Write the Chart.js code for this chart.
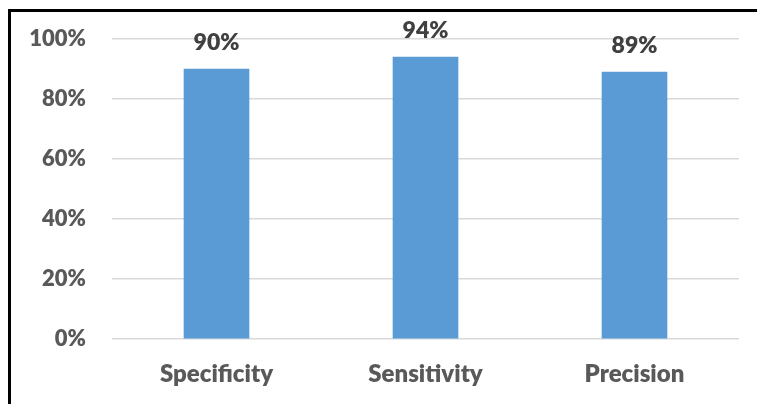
<!DOCTYPE html>
<html>
<head>
<meta charset="utf-8">
<script src="https://cdn.jsdelivr.net/npm/chart.js@4/dist/chart.umd.min.js"></script>
<style>
  html, body { margin: 0; padding: 0; background: #ffffff; }
  #wrap { position: relative; width: 757px; height: 404px; }
</style>
</head>
<body>
<div id="wrap"><canvas id="chart" width="757" height="404"></canvas></div>
<script>
// Diagnostic metrics (share of cases, percent)
const categories = ['Specificity', 'Sensitivity', 'Precision'];
const values = [90, 94, 89];
const tickValues = [0, 20, 40, 60, 80, 100];

const FONT = 'Lato, "Open Sans", sans-serif';
const WEIGHT = '800';

// Thick black frame along the top and left edges
const framePlugin = {
  id: 'frame',
  afterDraw(chart) {
    const ctx = chart.ctx;
    ctx.save();
    ctx.fillStyle = '#000000';
    ctx.fillRect(8, 9, 757 - 8, 3);
    ctx.fillRect(8, 9, 3, 404 - 9);
    ctx.restore();
  }
};

// Percentage written above each bar
const valueLabels = {
  id: 'valueLabels',
  afterDatasetsDraw(chart) {
    const ctx = chart.ctx;
    const meta = chart.getDatasetMeta(0);
    ctx.save();
    ctx.font = WEIGHT + ' 23px ' + FONT;
    ctx.fillStyle = '#404040';
    ctx.textAlign = 'center';
    ctx.textBaseline = 'alphabetic';
    meta.data.forEach((bar, i) => {
      ctx.fillText(values[i] + '%', bar.x, bar.y - 19);
    });
    ctx.restore();
  }
};

new Chart(document.getElementById('chart'), {
  type: 'bar',
  data: {
    labels: categories,
    datasets: [{
      data: values,
      backgroundColor: '#5B9BD5',
      borderWidth: 0,
      barThickness: 65
    }]
  },
  options: {
    responsive: false,
    animation: false,
    layout: { padding: { top: 39, right: 18, left: 0, bottom: 0 } },
    plugins: { legend: { display: false }, tooltip: { enabled: false } },
    scales: {
      x: {
        grid: { display: false, drawTicks: false },
        border: { display: false },
        ticks: {
          color: '#595959',
          font: { family: FONT, size: 24, weight: WEIGHT },
          padding: 21
        },
        afterFit(scale) { scale.height = 65; }
      },
      y: {
        min: 0,
        max: 100,
        afterBuildTicks(scale) { scale.ticks = tickValues.map(v => ({ value: v })); },
        grid: { color: '#D9D9D9', lineWidth: 1.5, drawTicks: false },
        border: { display: false },
        ticks: {
          color: '#595959',
          font: { family: FONT, size: 22, weight: WEIGHT },
          padding: 26,
          callback: v => v + '%'
        },
        afterFit(scale) { scale.width = 112; }
      }
    }
  },
  plugins: [framePlugin, valueLabels]
});
</script>
</body>
</html>
